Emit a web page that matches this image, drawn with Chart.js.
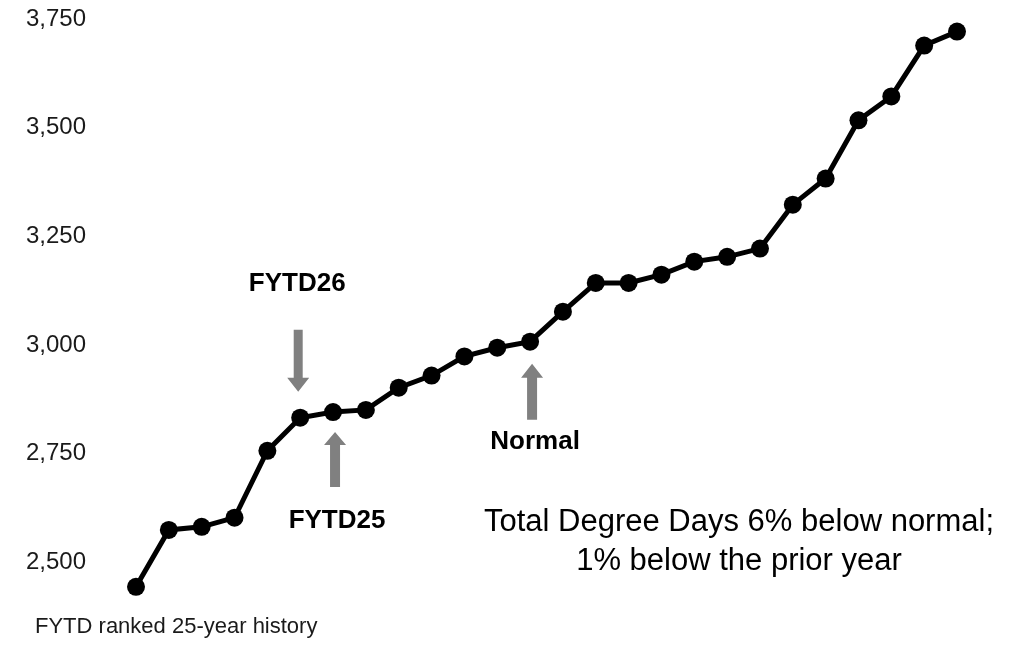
<!DOCTYPE html>
<html>
<head>
<meta charset="utf-8">
<script src="https://cdn.jsdelivr.net/npm/chart.js@4.4.1/dist/chart.umd.min.js"></script>
<style>
  html, body { margin: 0; padding: 0; background: #fff; }
  #wrap { width: 1028px; height: 652px; position: relative; }
</style>
</head>
<body>
<div id="wrap"><canvas id="chart"></canvas></div>
<script>
const ranks = [1, 2, 3, 4, 5, 6, 7, 8, 9, 10, 11, 12, 13, 14, 15, 16, 17, 18, 19, 20, 21, 22, 23, 24, 25, 26];
const degreeDays = [2444, 2575, 2582, 2603, 2757, 2833, 2846, 2851, 2902, 2930, 2974, 2994, 3008,
    3077, 3143, 3143, 3162, 3192, 3203, 3222, 3323, 3383, 3517, 3572, 3689, 3721];
const yTicks = [2500, 2750, 3000, 3250, 3500, 3750];

// which point each callout marks
const markerLabels = ["FYTD26", "FYTD25", "Normal"];
const markerIndex = [5, 6, 12];

const xTitle = "FYTD ranked 25-year history";
const noteLines = ["Total Degree Days 6% below normal;", "1% below the prior year"];

const FONT = "'Liberation Sans', Arial, sans-serif";
const GREY = "#808080";

function arrow(ctx, x, tipY, tailY, shaftW, headW, headH) {
    const d = tailY > tipY ? 1 : -1; // +1 = pointing up
    const baseY = tipY + d * headH;
    ctx.beginPath();
    ctx.moveTo(x, tipY);
    ctx.lineTo(x + headW / 2, baseY);
    ctx.lineTo(x + shaftW / 2, baseY);
    ctx.lineTo(x + shaftW / 2, tailY);
    ctx.lineTo(x - shaftW / 2, tailY);
    ctx.lineTo(x - shaftW / 2, baseY);
    ctx.lineTo(x - headW / 2, baseY);
    ctx.closePath();
    ctx.fill();
}

const callouts = {
    id: "callouts",
    afterDatasetsDraw(chart) {
        const ctx = chart.ctx;
        const xs = chart.scales.x;
        const ys = chart.scales.y;
        const pt = (i) => [xs.getPixelForValue(i), ys.getPixelForValue(degreeDays[i])];

        ctx.save();
        ctx.fillStyle = GREY;

        // FYTD26: arrow down onto the point, label above
        let [px, py] = pt(markerIndex[0]);
        arrow(ctx, px - 2, py - 26, py - 88, 9, 22, 14);
        // FYTD25: arrow up to the point, label below
        let [qx, qy] = pt(markerIndex[1]);
        arrow(ctx, qx + 2, qy + 20, qy + 75, 10, 22, 13);
        // Normal
        let [nx, ny] = pt(markerIndex[2]);
        arrow(ctx, nx + 2, ny + 22, ny + 78, 10, 22, 14);

        ctx.fillStyle = "#000";
        ctx.font = "bold 26px " + FONT;
        ctx.textAlign = "center";
        ctx.textBaseline = "middle";
        ctx.fillText(markerLabels[0], px - 3, py - 134);
        ctx.fillText(markerLabels[1], qx + 4, qy + 109);
        ctx.fillText(markerLabels[2], nx + 5, ny + 100);

        ctx.font = "31px " + FONT;
        ctx.fillText(noteLines[0], 739, 522);
        ctx.fillText(noteLines[1], 739, 561);

        ctx.font = "22px " + FONT;
        ctx.textAlign = "left";
        ctx.fillStyle = "#1a1a1a";
        ctx.fillText(xTitle, 35, 627);
        ctx.restore();
    }
};

new Chart(document.getElementById("chart"), {
    type: "line",
    data: {
        labels: ranks,
        datasets: [
            {
                data: degreeDays,
                borderColor: "#000",
                backgroundColor: "#000",
                borderWidth: 5,
                pointRadius: 9,
                pointBorderWidth: 0,
                pointBackgroundColor: "#000",
                tension: 0,
            },
        ],
    },
    options: {
        responsive: true,
        maintainAspectRatio: false,
        animation: false,
        layout: {
            padding: { left: 26, right: 71, top: 19, bottom: 46 },
        },
        plugins: {
            legend: { display: false },
            tooltip: { enabled: false },
        },
        scales: {
            x: {
                display: false,
                offset: false,
            },
            y: {
                min: 2400,
                max: 3750,
                afterBuildTicks: (scale) => {
                    scale.ticks = yTicks.map((v) => ({ value: v }));
                },
                afterFit: (scale) => {
                    scale.width = 110;
                },
                border: { display: false },
                grid: { display: false, drawTicks: false },
                ticks: {
                    padding: 0,
                    crossAlign: "far",
                    color: "#1a1a1a",
                    font: { family: FONT, size: 24 },
                    callback: (v) => v.toLocaleString("en-US"),
                },
            },
        },
    },
    plugins: [callouts],
});
</script>
</body>
</html>
